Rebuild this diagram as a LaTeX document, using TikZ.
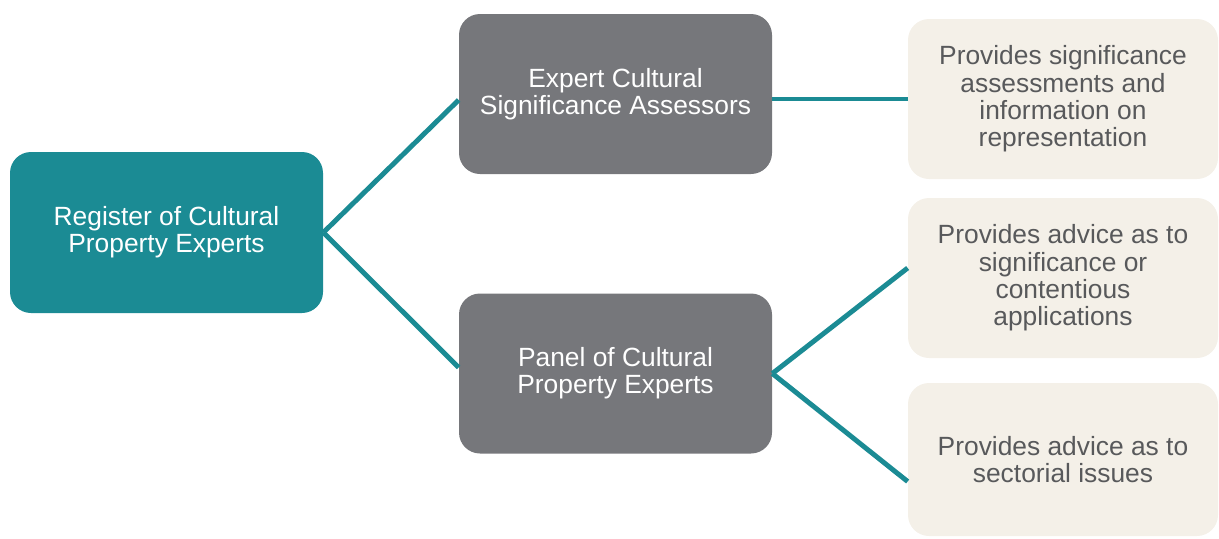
\documentclass[tikz,border=0pt]{standalone}
\usepackage{fontspec}
\setmainfont{Liberation Sans}
\usetikzlibrary{positioning, calc}
\definecolor{regteal}{HTML}{1B8B94}
\definecolor{midgray}{HTML}{76777B}
\definecolor{creambg}{HTML}{F4F0E8}
\definecolor{creamtxt}{HTML}{58595B}

\begin{document}
\begin{tikzpicture}[
        register/.style={rectangle, rounded corners=0.42cm, fill=regteal, text=white, minimum width=6.26cm, minimum height=3.22cm, align=center, font=\fontsize{15}{15.5}\selectfont},
        group/.style={rectangle, rounded corners=0.42cm, fill=midgray, text=white, minimum width=6.26cm, minimum height=3.2cm, align=center, font=\fontsize{15}{15.5}\selectfont},
        role/.style={rectangle, rounded corners=0.42cm, fill=creambg, text=creamtxt, minimum width=6.2cm, align=center, font=\fontsize{15}{15.5}\selectfont},
        link/.style={draw=regteal, line width=2.8pt}
    ]
        \useasboundingbox (0,0) rectangle (24.38,-10.76);

        % Register
        \node[register] (reg) at (3.33, -4.65) {Register of Cultural\\Property Experts};

        % Middle level
        \node[group] (esa) at (12.31, -1.88) {Expert Cultural\\Significance Assessors};
        \node[group] (panel) at (12.31, -7.47) {Panel of Cultural\\Property Experts};

        % Roles
        \node[role, minimum height=3.2cm] (role1) at (21.26, -1.98) {Provides significance\\assessments and\\information on\\representation};
        \node[role, minimum height=3.2cm] (role2) at (21.26, -5.56) {Provides advice as to\\significance or\\contentious\\applications};
        \node[role, minimum height=3.06cm] (role3) at (21.26, -9.19) {Provides advice as to\\sectorial issues};

        % Connectors
        \draw[link] (reg.east) -- ([yshift=-0.12cm]esa.west);
        \draw[link] (reg.east) -- ([yshift=0.12cm]panel.west);
        \draw[link] (esa.east |- role1.west) -- (role1.west);
        \draw[link] (panel.east) -- ([yshift=0.2cm]role2.west);
        \draw[link] (panel.east) -- ([yshift=-0.44cm]role3.west);
    \end{tikzpicture}
\end{document}
